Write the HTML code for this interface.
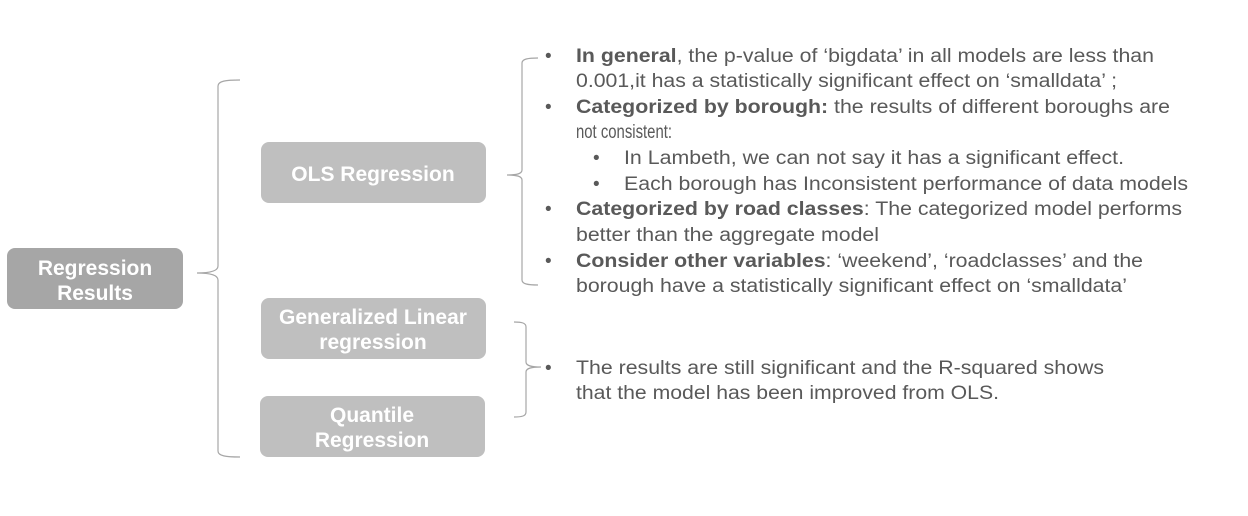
<!DOCTYPE html>
<html><head><meta charset="utf-8"><style>
html,body{margin:0;padding:0;background:#fff;width:1248px;height:516px;overflow:hidden}
svg{display:block}
</style></head><body>
<svg width="1248" height="516" viewBox="0 0 1248 516" xmlns="http://www.w3.org/2000/svg" font-family="'Liberation Sans', Arial, sans-serif">
<rect x="7" y="248" width="176" height="61" rx="8" fill="#a6a6a6"/>
<rect x="261" y="142" width="225" height="61" rx="8" fill="#bfbfbf"/>
<rect x="261" y="298" width="225" height="61" rx="8" fill="#bfbfbf"/>
<rect x="260" y="396" width="225" height="61" rx="8" fill="#bfbfbf"/>
<g fill="#fff" font-weight="bold" font-size="21" text-anchor="middle">
<text x="95" y="275">Regression</text>
<text x="95" y="300">Results</text>
<text x="373" y="181">OLS Regression</text>
<text x="373" y="324">Generalized Linear</text>
<text x="373" y="349">regression</text>
<text x="372" y="422">Quantile</text>
<text x="372" y="447">Regression</text>
</g>
<g fill="none" stroke="#a6a6a6" stroke-width="1.2">
<path d="M240,80 C226,80 218,81 218,86 L218,266 C218,271 210,273 197,273 C210,273 218,275 218,280 L218,451 C218,456 226,457 240,457"/>
<path d="M538,58 C528,58 522,59 522,63 L522,170 C522,174 516,175 507,175 C516,175 522,176 522,180 L522,280 C522,284 528,285 538,285"/>
<path d="M514,322 C522,322 526,323 526,327 L526,362 C526,366 532,367 541,367 C532,367 526,368 526,372 L526,412 C526,416 522,417 514,417"/>
</g>
<g fill="#595959" font-size="19">
<text x="545" y="62">•</text>
<text x="545" y="113">•</text>
<text x="593" y="164">•</text>
<text x="593" y="190">•</text>
<text x="545" y="215">•</text>
<text x="545" y="267">•</text>
<text x="545" y="374">•</text>
<text x="576" y="62" textLength="578" lengthAdjust="spacingAndGlyphs"><tspan font-weight="bold">In general</tspan>, the p-value of ‘bigdata’ in all models are less than</text>
<text x="576" y="87" textLength="541" lengthAdjust="spacingAndGlyphs">0.001,it has a statistically significant effect on ‘smalldata’ ;</text>
<text x="576" y="113" textLength="594" lengthAdjust="spacingAndGlyphs"><tspan font-weight="bold">Categorized by borough:</tspan> the results of different boroughs are</text>
<text x="576" y="138" font-size="19" textLength="96" lengthAdjust="spacingAndGlyphs">not consistent:</text>
<text x="624" y="164" textLength="500" lengthAdjust="spacingAndGlyphs">In Lambeth, we can not say it has a significant effect.</text>
<text x="624" y="190" textLength="564" lengthAdjust="spacingAndGlyphs">Each borough has Inconsistent performance of data models</text>
<text x="576" y="215" textLength="606" lengthAdjust="spacingAndGlyphs"><tspan font-weight="bold">Categorized by road classes</tspan>: The categorized model performs</text>
<text x="576" y="241" textLength="303" lengthAdjust="spacingAndGlyphs">better than the aggregate model</text>
<text x="576" y="267" textLength="567" lengthAdjust="spacingAndGlyphs"><tspan font-weight="bold">Consider other variables</tspan>: ‘weekend’, ‘roadclasses’ and the</text>
<text x="576" y="292" textLength="551" lengthAdjust="spacingAndGlyphs">borough have a statistically significant effect on ‘smalldata’</text>
<text x="576" y="374" textLength="528" lengthAdjust="spacingAndGlyphs">The results are still significant and the R-squared shows</text>
<text x="576" y="399" textLength="423" lengthAdjust="spacingAndGlyphs">that the model has been improved from OLS.</text>
</g>
</svg>
</body></html>
